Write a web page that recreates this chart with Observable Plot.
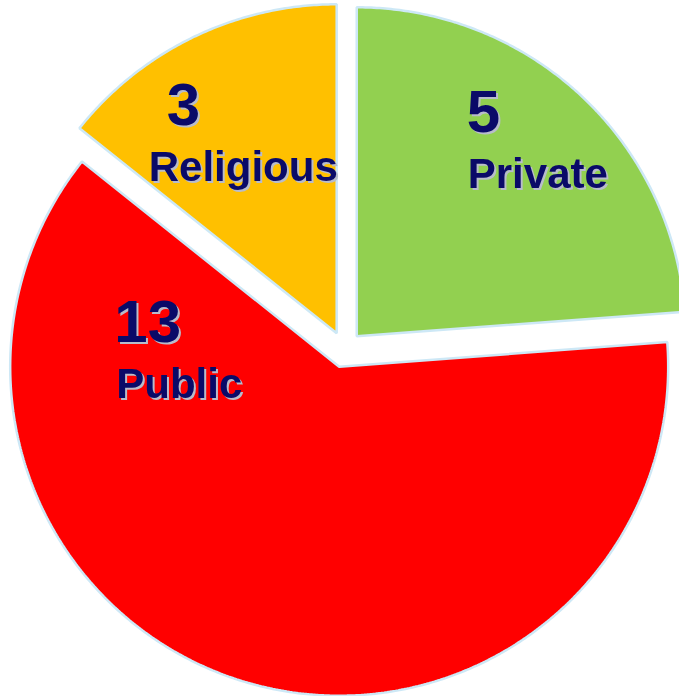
<!DOCTYPE html>
<html>
<head>
<meta charset="utf-8">
<script src="https://cdn.jsdelivr.net/npm/d3@7"></script>
<script src="https://cdn.jsdelivr.net/npm/@observablehq/plot@0.6"></script>
<style>
  html, body { margin: 0; padding: 0; background: #ffffff; }
  #chart { width: 679px; height: 696px; }
  svg { display: block; }
  #chart g[aria-label="text"] { filter: drop-shadow(2px 2px 0px #b8bccb); }
</style>
</head>
<body>
<div id="chart"></div>
<script>
// ---- data ----
const categories = ["Private", "Public", "Religious"];
const counts = [5, 13, 3];
const sliceColors = ["#92d050", "#ff0000", "#ffc000"];

// ---- layout (pixels / polar placements, not data) ----
const W = 679, H = 696;
const CX = 344, CY = 349, R = 329;   // pie centre and radius in pixels
const EXPLODE = 18;                   // explode distance in pixels
// label anchor: polar position from the slice vertex (deg clockwise from 12 o'clock, fraction of radius)
const labelAngle = [36.9, 262.1, 309.0];
const labelRadius = [0.562, 0.684, 0.735];
const numberDx = [-1, -2, 18];

// scales: one data unit = pie radius
const xDomain = [-CX / R, (W - CX) / R];
const yDomain = [-(H - CY) / R, CY / R];

const arcs = d3.pie().sort(null).startAngle(0).endAngle(2 * Math.PI)(counts);
const e = EXPLODE / R;

const pts = [];
const labels = [];
arcs.forEach((a, i) => {
  const mid = (a.startAngle + a.endAngle) / 2;
  const ox = e * Math.sin(mid), oy = e * Math.cos(mid);
  pts.push({name: categories[i], x: ox, y: oy});
  const n = Math.max(2, Math.ceil((a.endAngle - a.startAngle) / (Math.PI / 360)));
  for (let k = 0; k <= n; k++) {
    const t = a.startAngle + (a.endAngle - a.startAngle) * k / n;
    pts.push({name: categories[i], x: ox + Math.sin(t), y: oy + Math.cos(t)});
  }
  const la = labelAngle[i] * Math.PI / 180;
  labels.push({
    name: categories[i],
    value: String(counts[i]),
    x: ox + labelRadius[i] * Math.sin(la),
    y: oy + labelRadius[i] * Math.cos(la),
    ndx: numberDx[i]
  });
});

const navy = "#0a0a68";
const font = "'Liberation Sans', Arial, Helvetica, sans-serif";

const chart = Plot.plot({
  width: W,
  height: H,
  margin: 0,
  x: {domain: xDomain, axis: null},
  y: {domain: yDomain, axis: null},
  color: {domain: categories, range: sliceColors},
  style: {background: "#ffffff", overflow: "hidden"},
  marks: [
    Plot.line(pts, {
      x: "x", y: "y", z: "name", fill: "name",
      stroke: "#cde8f6", strokeWidth: 2.5, strokeLinejoin: "miter",
      curve: "linear-closed"
    }),
    Plot.text(labels, {
      x: "x", y: "y", text: "name",
      fontSize: 42, fontWeight: "bold", fontFamily: font,
      fill: navy, textAnchor: "start", lineAnchor: "bottom"
    }),
    ...labels.map(d => Plot.text([d], {
      x: "x", y: "y", text: "value",
      fontSize: 60, fontWeight: "bold", fontFamily: font,
      fill: navy, textAnchor: "start", lineAnchor: "bottom",
      dx: d.ndx, dy: -56
    }))
  ]
});
document.getElementById("chart").appendChild(chart);
</script>
</body>
</html>
